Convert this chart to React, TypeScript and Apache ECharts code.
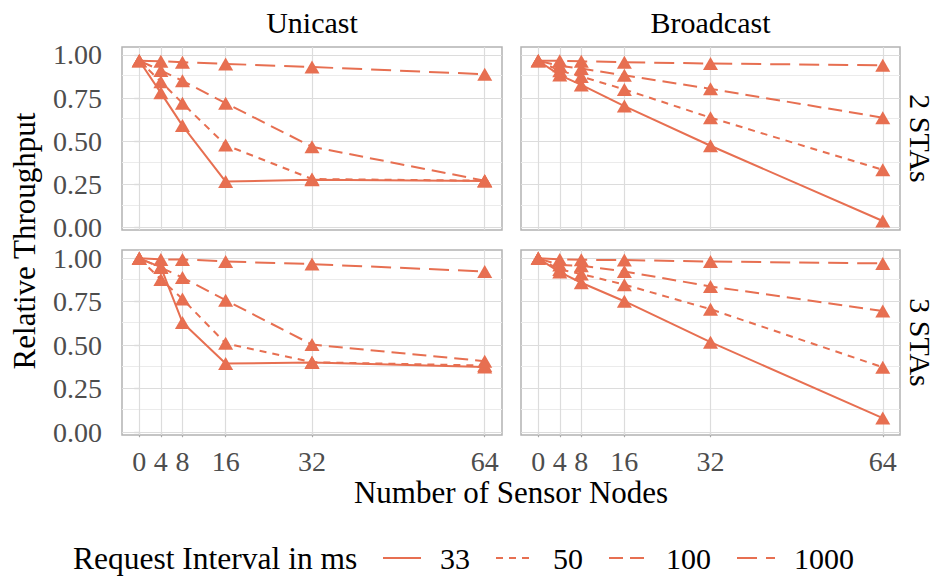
import React, { useEffect, useRef } from "react";
import * as echarts from "echarts";

const xValues = [0, 4, 8, 16, 32, 64];
const xTickLabels = [0, 4, 8, 16, 32, 64];
const yTickLabels = [0, 0.25, 0.5, 0.75, 1];
const yMinorGrid = [0.125, 0.375, 0.625, 0.875];

const intervals = ["33", "50", "100", "1000"];
const columnTitles = ["Unicast", "Broadcast"];
const rowTitles = ["2 STAs", "3 STAs"];

// Unicast, 2 STAs
const u2_33 = [0.966, 0.78, 0.59, 0.265, 0.275, 0.268];
const u2_50 = [0.966, 0.845, 0.72, 0.477, 0.28, 0.27];
const u2_100 = [0.966, 0.91, 0.85, 0.72, 0.467, 0.27];
const u2_1000 = [0.966, 0.963, 0.958, 0.948, 0.93, 0.888];
// Broadcast, 2 STAs
const b2_33 = [0.966, 0.883, 0.826, 0.703, 0.473, 0.036];
const b2_50 = [0.966, 0.908, 0.875, 0.8, 0.636, 0.333];
const b2_100 = [0.966, 0.937, 0.921, 0.882, 0.803, 0.636];
const b2_1000 = [0.966, 0.966, 0.963, 0.958, 0.95, 0.94];
// Unicast, 3 STAs
const u3_33 = [0.998, 0.948, 0.63, 0.394, 0.4, 0.375];
const u3_50 = [0.998, 0.877, 0.765, 0.51, 0.402, 0.383];
const u3_100 = [0.998, 0.945, 0.888, 0.758, 0.503, 0.408];
const u3_1000 = [0.998, 0.992, 0.992, 0.98, 0.965, 0.923];
// Broadcast, 3 STAs
const b3_33 = [0.998, 0.919, 0.858, 0.752, 0.517, 0.081];
const b3_50 = [0.998, 0.934, 0.908, 0.847, 0.706, 0.373];
const b3_100 = [0.998, 0.96, 0.956, 0.923, 0.837, 0.696];
const b3_1000 = [0.998, 0.992, 0.99, 0.988, 0.98, 0.969];

const panelData = [
  [u2_33, u2_50, u2_100, u2_1000],
  [b2_33, b2_50, b2_100, b2_1000],
  [u3_33, u3_50, u3_100, u3_1000],
  [b3_33, b3_50, b3_100, b3_1000],
];

const COLOR = "#E76F51";
const FONT = "Liberation Serif";
const dashTypes: any[] = ["solid", [7, 6], [14, 7], [20, 9]];

const grids = [
  { left: 122, top: 47, width: 380, height: 183 },
  { left: 521, top: 47, width: 379, height: 183 },
  { left: 122, top: 250, width: 380, height: 185 },
  { left: 521, top: 250, width: 379, height: 185 },
];

export default function App() {
  const ref = useRef<HTMLDivElement>(null);
  useEffect(() => {
    if (!ref.current) return;
    document.body.style.margin = "0";
    const chart = echarts.init(ref.current, undefined, { renderer: "svg" });
    const series: any[] = [];
    grids.forEach((_, gi) => {
      series.push({
        type: "line",
        name: "grid" + gi,
        xAxisIndex: gi,
        yAxisIndex: gi,
        data: [],
        silent: true,
        markLine: {
          silent: true,
          z: 1,
          symbol: "none",
          label: { show: false },
          animation: false,
          data: [
            ...yTickLabels.map((v) => ({ yAxis: v, lineStyle: { color: "#dcdcdc", width: 1.2, type: "solid" } })),
            ...yMinorGrid.map((v) => ({ yAxis: v, lineStyle: { color: "#ebebeb", width: 1, type: "solid" } })),
            ...xTickLabels.map((v) => ({ xAxis: v, lineStyle: { color: "#dcdcdc", width: 1.2, type: "solid" } })),
          ],
        },
      });
      panelData[gi].forEach((vals, si) => {
        series.push({
          type: "line",
          name: intervals[si],
          xAxisIndex: gi,
          yAxisIndex: gi,
          z: 3,
          data: vals.map((v, k) => [xValues[k], v]),
          symbol: "triangle",
          symbolSize: [15, 13],
          showSymbol: true,
          itemStyle: { color: COLOR },
          lineStyle: { color: COLOR, width: 2, type: dashTypes[si] },
          emphasis: { disabled: true },
          clip: false,
        });
      });
    });

    const option: any = {
      animation: false,
      textStyle: { fontFamily: FONT },
      grid: grids.map((g) => ({
        ...g,
        show: true,
        borderColor: "#b3b3b3",
        borderWidth: 1.5,
        backgroundColor: "transparent",
      })),
      xAxis: grids.map((_, gi) => {
        const bottom = gi >= 2;
        return {
          type: "value",
          gridIndex: gi,
          min: -3.2,
          max: 67.2,
          axisLine: { show: false },
          splitLine: { show: false },
          axisTick: {
            show: bottom,
            customValues: xTickLabels,
            length: 5,
            lineStyle: { color: "#aaaaaa", width: 1.2 },
          },
          axisLabel: {
            show: bottom,
            customValues: xTickLabels,
            interval: 0,
            hideOverlap: false,
            fontSize: 28,
            color: "#4d4d4d",
            fontFamily: FONT,
            margin: 12,
          },
        };
      }),
      yAxis: grids.map((_, gi) => {
        const left = gi % 2 === 0;
        return {
          type: "value",
          gridIndex: gi,
          min: -0.016,
          max: 1.046,
          axisLine: { show: false },
          splitLine: { show: false },
          axisTick: {
            show: left,
            customValues: yTickLabels,
            length: 5,
            lineStyle: { color: "#aaaaaa", width: 1.2 },
          },
          axisLabel: {
            show: left,
            customValues: yTickLabels,
            formatter: (v: number) => v.toFixed(2),
            fontSize: 28,
            color: "#4d4d4d",
            fontFamily: FONT,
            margin: 20,
          },
        };
      }),
      legend: {
        left: 377,
        top: 538,
        itemWidth: 38,
        itemHeight: 14,
        itemGap: 25,
        selectedMode: false,
        textStyle: { fontSize: 30, color: "#000", fontFamily: FONT, padding: [0, 0, 0, 14] },
        data: intervals.map((name, i) => ({
          name,
          itemStyle: { opacity: 0 },
          lineStyle: { color: COLOR, width: 2, type: dashTypes[i] },
        })),
      },
      graphic: [
        ...columnTitles.map((t, i) => ({
          type: "text",
          x: grids[i].left + grids[i].width / 2,
          y: 22,
          style: { text: t, fontSize: 30, fontFamily: FONT, fill: "#000", align: "center", verticalAlign: "middle" },
        })),
        ...rowTitles.map((t, i) => ({
          type: "text",
          x: 920,
          y: grids[i * 2].top + grids[i * 2].height / 2,
          rotation: -Math.PI / 2,
          style: { text: t, fontSize: 30, fontFamily: FONT, fill: "#000", align: "center", verticalAlign: "middle" },
        })),
        {
          type: "text",
          x: 24,
          y: 241,
          rotation: Math.PI / 2,
          style: { text: "Relative Throughput", fontSize: 31, fontFamily: FONT, fill: "#000", align: "center", verticalAlign: "middle" },
        },
        {
          type: "text",
          x: 511,
          y: 492,
          style: { text: "Number of Sensor Nodes", fontSize: 31, fontFamily: FONT, fill: "#000", align: "center", verticalAlign: "middle" },
        },
        {
          type: "text",
          x: 73,
          y: 558,
          style: { text: "Request Interval in ms", fontSize: 31.5, fontFamily: FONT, fill: "#000", align: "left", verticalAlign: "middle" },
        },
      ],
      series,
    };
    chart.setOption(option);
    return () => chart.dispose();
  }, []);
  return <div ref={ref} style={{ width: 940, height: 576 }} />;
}
